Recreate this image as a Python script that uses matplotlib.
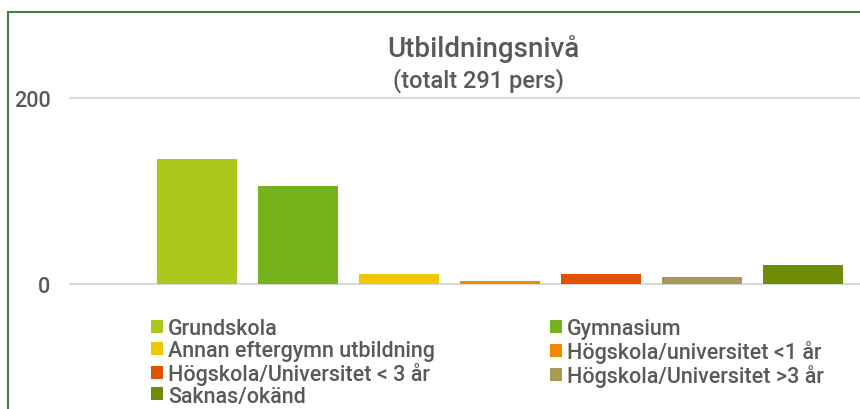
import matplotlib
matplotlib.use("Agg")
import matplotlib.pyplot as plt
from matplotlib.patches import Rectangle, Patch

categories = ["Grundskola", "Gymnasium", "Annan eftergymn utbildning",
              "Högskola/universitet <1 år", "Högskola/Universitet < 3 år",
              "Högskola/Universitet >3 år", "Saknas/okänd"]
values = [134, 105, 11, 3, 11, 7, 20]
colors = ["#abc71b", "#74b31b", "#efc800", "#f18a00", "#e35100", "#a89a56", "#6e8c05"]
yticks = [0, 200]
title = "Utbildningsnivå"
subtitle = "(totalt 291 pers)"

plt.rcParams['font.family'] = ['Roboto', 'DejaVu Sans']
plt.rcParams['font.weight'] = 'medium'
W, H = 860, 410
fig = plt.figure(figsize=(W / 100, H / 100), dpi=100)

def fx(px):
    return px / W

def fy(py):
    return (H - py) / H

# axes: left 70px, right 860px, y0 at 285px, y200 at 99px
ax = fig.add_axes([fx(70), fy(285), fx(860) - fx(70), fy(99) - fy(285)])
x = list(range(len(values)))
ax.bar(x, values, width=0.792, color=colors, zorder=3)
ax.set_xlim((70 - 197) / 101, (860 - 197) / 101)
ax.set_ylim(0, 200)
ax.set_yticks(yticks)
ax.set_yticklabels([str(t) for t in yticks])
ax.tick_params(axis='y', length=0, pad=14, labelsize=15.5, labelcolor='#595959')
ax.set_xticks([])
for s in ax.spines.values():
    s.set_visible(False)
for t in yticks:
    ax.axhline(t, color='#d9d9d9', linewidth=1.5, zorder=1, clip_on=False)

fig.text(fx(483), fy(57), title, ha='center', va='baseline', fontsize=20, color='#595959')
fig.text(fx(478), fy(88), subtitle, ha='center', va='baseline', fontsize=17, color='#595959')

handles = [Patch(facecolor=c, edgecolor='none') for c in colors]
left_idx = [0, 2, 4, 6]
right_idx = [1, 3, 5]
common = dict(frameon=False, fontsize=15.5, handlelength=0.55, handleheight=0.55,
              handletextpad=0.25, labelspacing=0.04, borderpad=0, borderaxespad=0,
              labelcolor='#595959', loc='upper left')
fig.legend([handles[i] for i in left_idx], [categories[i] for i in left_idx],
           bbox_to_anchor=(fx(151), fy(319)), **common)
fig.legend([handles[i] for i in right_idx], [categories[i] for i in right_idx],
           bbox_to_anchor=(fx(550), fy(319)), **common)

# green frame
fig.patches.append(Rectangle((fx(8), -0.2), 1.5, fy(13) + 0.2, transform=fig.transFigure,
                             fill=False, edgecolor='#3d7d46', linewidth=1.5, zorder=10))

fig.savefig("out.png", dpi=100)
